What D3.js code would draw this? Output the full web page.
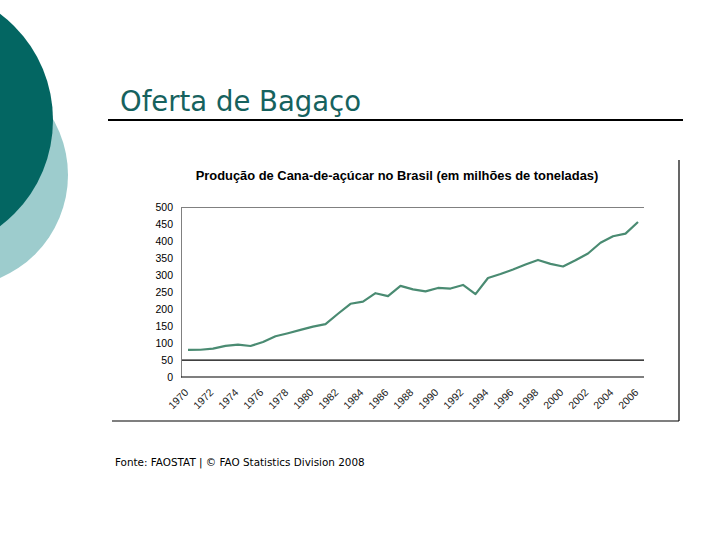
<!DOCTYPE html>
<html>
<head>
<meta charset="utf-8">
<script src="https://cdn.jsdelivr.net/npm/d3@7"></script>
<style>
  body { margin: 0; background: #fff; }
  svg { display: block; }
</style>
</head>
<body>
<script>
// Produção de cana-de-açúcar no Brasil, milhões de toneladas (FAOSTAT)
var years = d3.range(1970, 2007);
var production = [79.8, 80.4, 83.9, 91.9, 95.6, 91.5, 103.2, 120.1, 129.1, 138.9,
                  148.6, 155.9, 186.6, 216.0, 222.3, 247.2, 238.5, 268.7, 258.4, 252.6,
                  262.7, 260.9, 271.5, 244.5, 292.1, 303.7, 317.1, 331.6, 345.3, 333.8,
                  326.1, 344.3, 364.4, 396.0, 415.2, 422.9, 457.2];
var yTicks = [0, 50, 100, 150, 200, 250, 300, 350, 400, 450, 500];
var xLabelYears = d3.range(1970, 2007, 2);

var svgWidth = 720;
var svgHeight = 540;

var svg = d3.select("body")
            .append("svg")
            .attr("width", svgWidth)
            .attr("height", svgHeight);

// decorative circles
svg.append("circle")
   .attr("cx", -44).attr("cy", 175).attr("r", 112)
   .attr("fill", "#9dcccd");
svg.append("circle")
   .attr("cx", -80).attr("cy", 120).attr("r", 133)
   .attr("fill", "#036662");

// slide title
svg.append("text")
   .attr("x", 120).attr("y", 111)
   .attr("font-family", "'DejaVu Sans', Verdana, sans-serif")
   .attr("font-size", 27.5)
   .attr("fill", "#16625e")
   .text("Oferta de Bagaço");

svg.append("line")
   .attr("x1", 108).attr("x2", 683)
   .attr("y1", 120).attr("y2", 120)
   .attr("stroke", "#000").attr("stroke-width", 2);

// chart frame (right and bottom edges visible)
svg.append("line")
   .attr("x1", 679).attr("x2", 679).attr("y1", 160).attr("y2", 421)
   .attr("stroke", "#000").attr("stroke-width", 1.2);
svg.append("line")
   .attr("x1", 112).attr("x2", 679).attr("y1", 421).attr("y2", 421)
   .attr("stroke", "#000").attr("stroke-width", 1.2);

svg.append("text")
   .attr("x", 397).attr("y", 180)
   .attr("text-anchor", "middle")
   .attr("font-family", "'Liberation Sans', Arial, sans-serif")
   .attr("font-weight", "bold")
   .attr("font-size", 12.9)
   .attr("fill", "#000")
   .text("Produção de Cana-de-açúcar no Brasil (em milhões de toneladas)");

var plot = { left: 181, right: 644, top: 207.5, bottom: 377 };

var xScale = d3.scalePoint()
               .domain(years)
               .range([188, 638]);

var yScale = d3.scaleLinear()
               .domain([0, 500])
               .range([plot.bottom, plot.top]);

var chartGroup = svg.append("g");

// top border at 500
chartGroup.append("line")
          .attr("x1", plot.left).attr("x2", plot.right)
          .attr("y1", yScale(500)).attr("y2", yScale(500))
          .attr("stroke", "#808080");

// black line at 50
chartGroup.append("line")
          .attr("x1", plot.left).attr("x2", plot.right)
          .attr("y1", yScale(50)).attr("y2", yScale(50))
          .attr("stroke", "#000").attr("stroke-width", 1.2);

var leftAxis = d3.axisLeft(yScale)
                 .tickValues(yTicks)
                 .tickSize(0)
                 .tickPadding(8);

var yAxis = chartGroup.append("g")
                      .attr("transform", `translate(${plot.left}, 0)`)
                      .call(leftAxis);
yAxis.select(".domain").attr("stroke", "#808080");
yAxis.selectAll("text")
     .attr("font-family", "'Liberation Sans', Arial, sans-serif")
     .attr("font-size", 10.5)
     .attr("fill", "#000");

// x axis
chartGroup.append("line")
          .attr("x1", plot.left).attr("x2", plot.right)
          .attr("y1", plot.bottom).attr("y2", plot.bottom)
          .attr("stroke", "#000").attr("stroke-width", 1.2);

chartGroup.append("g")
          .selectAll("text")
          .data(xLabelYears)
          .enter()
          .append("text")
          .attr("transform", d => `translate(${xScale(d) - 4}, ${plot.bottom + 11}) rotate(-45)`)
          .attr("text-anchor", "end")
          .attr("dy", "0.7em")
          .attr("font-family", "'Liberation Sans', Arial, sans-serif")
          .attr("font-size", 10.5)
          .attr("fill", "#222")
          .text(d => d);

var line = d3.line()
             .x((d, i) => xScale(years[i]))
             .y(d => yScale(d));

chartGroup.append("path")
          .datum(production)
          .attr("d", line)
          .attr("fill", "none")
          .attr("stroke", "#4a8b72")
          .attr("stroke-width", 2.2)
          .attr("stroke-linejoin", "round");

// source note
svg.append("text")
   .attr("x", 115).attr("y", 466)
   .attr("font-family", "'DejaVu Sans', Verdana, sans-serif")
   .attr("font-size", 10.4)
   .attr("fill", "#000")
   .text("Fonte: FAOSTAT | © FAO Statistics Division 2008");
</script>
</body>
</html>
